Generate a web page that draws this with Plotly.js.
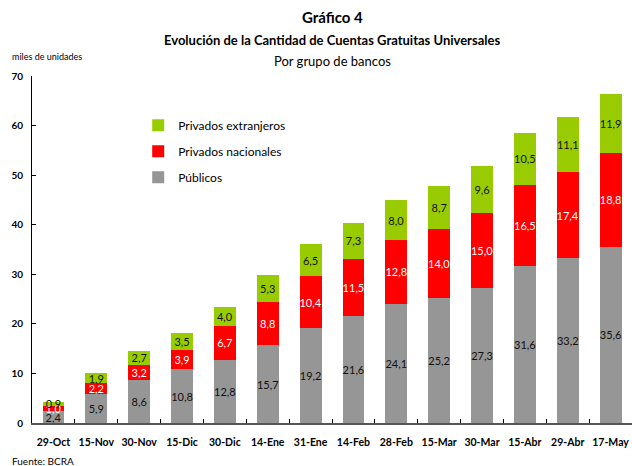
<!DOCTYPE html>
<html>
<head>
<meta charset="utf-8">
<script src="https://cdn.plot.ly/plotly-3.0.1.min.js"></script>
<style>html,body{margin:0;padding:0;background:#fff;}#chart{width:632px;height:466px;}</style>
</head>
<body>
<div id="chart"></div>
<script>
const categories = ["29-Oct","15-Nov","30-Nov","15-Dic","30-Dic","14-Ene","31-Ene","14-Feb","28-Feb","15-Mar","30-Mar","15-Abr","29-Abr","17-May"];
const publicos = [2.4, 5.9, 8.6, 10.8, 12.8, 15.7, 19.2, 21.6, 24.1, 25.2, 27.3, 31.6, 33.2, 35.6];
const nacionales = [1.0, 2.2, 3.2, 3.9, 6.7, 8.8, 10.4, 11.5, 12.8, 14.0, 15.0, 16.5, 17.4, 18.8];
const extranjeros = [0.9, 1.9, 2.7, 3.5, 4.0, 5.3, 6.5, 7.3, 8.0, 8.7, 9.6, 10.5, 11.1, 11.9];
const yTicks = [0, 10, 20, 30, 40, 50, 60, 70];

const FONT = "Lato, 'Open Sans', sans-serif";

function bar(name, vals, color, textColor, group, rank) {
  return {
    type: "bar", name: name, x: categories, y: vals,
    marker: {color: color, line: {width: 0}},
    texttemplate: "%{y:.1f}", textposition: "inside", insidetextanchor: "middle",
    textangle: 0, constraintext: "none",
    insidetextfont: {family: FONT, size: 11, color: textColor},
    legendgroup: group, legendrank: rank, hoverinfo: "skip"
  };
}

const data = [
  bar("Públicos", publicos, "#969696", "#111111", "g1", 3),
  bar("Privados nacionales", nacionales, "#FF0000", "#FFFFFF", "g2", 2),
  bar("Privados extranjeros", extranjeros, "#99CC00", "#111111", "g3", 1)
];

const layout = {
  width: 632, height: 466,
  margin: {l: 32, r: 0, t: 76, b: 43},
  barmode: "stack", bargap: 0.49,
  separators: ",.",
  paper_bgcolor: "#fff", plot_bgcolor: "#fff",
  font: {family: FONT, color: "#000"},
  uniformtext: {mode: "show", minsize: 11},
  showlegend: true,
  legend: {x: 0.177, y: 0.9, xanchor: "left", yanchor: "top", traceorder: "grouped", tracegroupgap: 7,
           font: {family: FONT, size: 12, color: "#000"}, bgcolor: "rgba(0,0,0,0)"},
  xaxis: {type: "category", showline: true, linecolor: "#555", linewidth: 2,
          ticks: "inside", tickson: "boundaries", ticklen: 4, tickcolor: "#000", tickangle: 0,
          tickfont: {family: FONT, size: 10.5, color: "#000", weight: "bold"}, ticklabelstandoff: 8,
          showgrid: false, zeroline: false, fixedrange: true},
  yaxis: {range: [0, 70], tickvals: yTicks, ticktext: yTicks.map(String), showline: true, linecolor: "#000", linewidth: 1,
          ticks: "inside", ticklen: 4, tickcolor: "#000",
          tickfont: {family: FONT, size: 10, color: "#000", weight: "bold"}, ticklabelstandoff: 6,
          showgrid: false, zeroline: false, fixedrange: true},
  annotations: [
    {text: "<b>Gráfico 4</b>", xref: "paper", yref: "paper", x: 0.5, y: 1.170, xanchor: "center", yanchor: "middle", showarrow: false, font: {family: FONT, size: 15}},
    {text: "<b>Evolución de la Cantidad de Cuentas Gratuitas Universales</b>", xref: "paper", yref: "paper", x: 0.5, y: 1.104, xanchor: "center", yanchor: "middle", showarrow: false, font: {family: FONT, size: 13}},
    {text: "Por grupo de bancos", xref: "paper", yref: "paper", x: 0.5, y: 1.043, xanchor: "center", yanchor: "middle", showarrow: false, font: {family: FONT, size: 13}},
    {text: "miles de unidades", xref: "paper", yref: "paper", x: -0.037, y: 1.055, xanchor: "left", yanchor: "middle", showarrow: false, font: {family: FONT, size: 9}},
    {text: "Fuente: BCRA", xref: "paper", yref: "paper", x: -0.037, y: -0.11, xanchor: "left", yanchor: "middle", showarrow: false, font: {family: FONT, size: 10}}
  ]
};

Plotly.newPlot("chart", data, layout, {displayModeBar: false, staticPlot: true});
</script>
</body>
</html>
